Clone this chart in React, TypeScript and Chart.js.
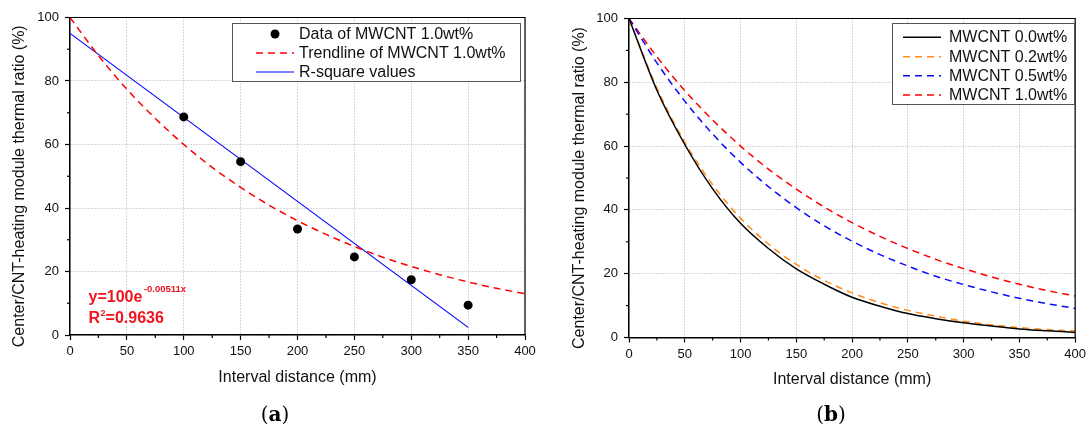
import React, { useEffect, useRef } from "react";
import { Chart, registerables } from "chart.js";

Chart.register(...registerables);

// ---------------- data ----------------
// (a) measured points for MWCNT 1.0wt%
const measuredDistance = [100, 150, 200, 250, 300, 350];
const measuredRatio = [68.7, 54.6, 33.4, 24.6, 17.4, 9.4];

// distances at which the curves were read
const curveDistance = [0, 25, 50, 75, 100, 125, 150, 175, 200, 225, 250, 275, 300, 325, 350, 375, 400];

// (a) exponential trendline of MWCNT 1.0wt%
const trendRatio = [100, 88.0, 77.4, 68.2, 60.0, 52.8, 46.5, 40.9, 36.0, 31.7, 27.9, 24.5, 21.6, 19.0, 16.7, 14.7, 13.0];

// (a) straight "R-square values" line
const rSquareDistance = [0, 350];
const rSquareRatio = [95.0, 2.4];

// (b) curves
const mwcnt00 = [100, 77.5, 60.5, 46.6, 35.8, 27.9, 21.5, 16.7, 12.6, 9.8, 7.5, 5.9, 4.6, 3.6, 2.7, 2.1, 1.6];
const mwcnt02 = [100, 78.2, 61.2, 47.9, 37.4, 29.3, 22.9, 17.9, 14.0, 10.9, 8.5, 6.7, 5.1, 4.0, 3.1, 2.5, 2.0];
const mwcnt05 = [100, 86.1, 74.1, 63.8, 54.9, 47.3, 40.7, 35.0, 30.2, 26.0, 22.4, 19.2, 16.6, 14.3, 12.3, 10.6, 9.1];
const mwcnt10 = [100, 88.0, 77.4, 68.2, 60.0, 52.8, 46.5, 40.9, 36.0, 31.7, 27.9, 24.5, 21.6, 19.0, 16.7, 14.7, 13.0];

// labelled (major) ticks; minor ticks lie halfway between
const xTickLabels = [0, 50, 100, 150, 200, 250, 300, 350, 400];
const yTickLabels = [0, 20, 40, 60, 80, 100];

const labelsA = ["Data of MWCNT 1.0wt%", "Trendline of MWCNT 1.0wt%", "R-square values"];
const labelsB = ["MWCNT 0.0wt%", "MWCNT 0.2wt%", "MWCNT 0.5wt%", "MWCNT 1.0wt%"];

const eqMain = "y=100e";
const eqExp = "-0.00511x";
const r2Main = "R";
const r2Sup = "2";
const r2Rest = "=0.9636";

const xTitle = "Interval distance (mm)";
const yTitle = "Center/CNT-heating module thermal ratio (%)";

// ---------------- helpers ----------------
const FONT = "'Liberation Sans', Arial, Helvetica, sans-serif";
const toPoints = (xs: number[], ys: number[]) => xs.map((x, i) => ({ x, y: ys[i] }));

const isMajorX = (v: number) => xTickLabels.includes(v);
const isMajorY = (v: number) => yTickLabels.includes(v);

const framePlugin = {
  id: "frame",
  afterDraw(chart: any) {
    const { ctx, chartArea, scales } = chart;
    ctx.save();
    ctx.strokeStyle = "#000";
    ctx.lineWidth = 1.2;
    ctx.beginPath();
    ctx.moveTo(chartArea.left, chartArea.top);
    ctx.lineTo(chartArea.right, chartArea.top);
    ctx.lineTo(chartArea.right, chartArea.bottom);
    ctx.stroke();
    // minor ticks
    scales.x.ticks.forEach((t: any) => {
      if (isMajorX(t.value)) return;
      const p = scales.x.getPixelForValue(t.value);
      ctx.beginPath();
      ctx.moveTo(p, chartArea.bottom);
      ctx.lineTo(p, chartArea.bottom + 3);
      ctx.stroke();
    });
    scales.y.ticks.forEach((t: any) => {
      if (isMajorY(t.value)) return;
      const p = scales.y.getPixelForValue(t.value);
      ctx.beginPath();
      ctx.moveTo(chartArea.left, p);
      ctx.lineTo(chartArea.left - 3, p);
      ctx.stroke();
    });
    ctx.restore();
  },
};

// y-axis title, drawn a little below the axis centre as in the original
function makeYTitlePlugin(cx: number, dy: number) {
  return {
    id: "yTitle",
    afterDraw(chart: any) {
      const { ctx, chartArea } = chart;
      ctx.save();
      ctx.translate(cx, (chartArea.top + chartArea.bottom) / 2 + dy);
      ctx.rotate(-Math.PI / 2);
      ctx.fillStyle = "#111";
      ctx.font = `16px ${FONT}`;
      ctx.textAlign = "center";
      ctx.textBaseline = "middle";
      ctx.fillText(yTitle, 0, 0);
      ctx.restore();
    },
  };
}

type LegendCfg = {
  x: number; y: number; w: number; h: number;
  rows: number[]; lineX1: number; lineX2: number; textX: number; fontSize: number;
};

function makeLegendPlugin(cfg: LegendCfg) {
  return {
    id: "boxLegend",
    afterDraw(chart: any) {
      const ctx = chart.ctx;
      ctx.save();
      ctx.fillStyle = "#fff";
      ctx.fillRect(cfg.x, cfg.y, cfg.w, cfg.h);
      ctx.strokeStyle = "#555";
      ctx.lineWidth = 1;
      ctx.strokeRect(cfg.x + 0.5, cfg.y + 0.5, cfg.w, cfg.h);
      cfg.rows.forEach((ry, i) => {
        const ds = chart.data.datasets[i];
        if (!ds) return;
        if (ds.showLine === false) {
          ctx.fillStyle = ds.pointBackgroundColor;
          ctx.beginPath();
          ctx.arc((cfg.lineX1 + cfg.lineX2) / 2, ry, ds.pointRadius, 0, Math.PI * 2);
          ctx.fill();
        } else {
          ctx.strokeStyle = ds.borderColor;
          ctx.lineWidth = ds.borderWidth;
          ctx.setLineDash(ds.borderDash || []);
          ctx.beginPath();
          ctx.moveTo(cfg.lineX1, ry);
          ctx.lineTo(cfg.lineX2, ry);
          ctx.stroke();
          ctx.setLineDash([]);
        }
        ctx.fillStyle = "#111";
        ctx.font = `${cfg.fontSize}px ${FONT}`;
        ctx.textAlign = "left";
        ctx.textBaseline = "middle";
        ctx.fillText(ds.label, cfg.textX, ry + 0.5);
      });
      ctx.restore();
    },
  };
}

const equationPlugin = {
  id: "equation",
  afterDatasetsDraw(chart: any) {
    const { ctx, chartArea } = chart;
    const x0 = chartArea.left + 18.5;
    const b = chartArea.bottom;
    ctx.save();
    ctx.fillStyle = "#f0141e";
    ctx.textAlign = "left";
    ctx.textBaseline = "middle";
    ctx.font = `bold 16px ${FONT}`;
    ctx.fillText(eqMain, x0, b - 37.5);
    let w = ctx.measureText(eqMain).width;
    ctx.font = `bold 9.5px ${FONT}`;
    ctx.fillText(eqExp, x0 + w + 1.5, b - 45.5);
    ctx.font = `bold 16px ${FONT}`;
    ctx.fillText(r2Main, x0, b - 16);
    w = ctx.measureText(r2Main).width;
    ctx.font = `bold 9px ${FONT}`;
    ctx.fillText(r2Sup, x0 + w + 0.5, b - 21.5);
    const w2 = ctx.measureText(r2Sup).width;
    ctx.font = `bold 16px ${FONT}`;
    ctx.fillText(r2Rest, x0 + w + w2 + 0.5, b - 16);
    ctx.restore();
  },
};

function makeOptions(p: {
  yAxisWidth: number; padTop: number; padRight: number; padBottom: number;
}) {
  return {
    responsive: false,
    animation: false as const,
    layout: { padding: { left: 0, right: p.padRight, top: p.padTop, bottom: p.padBottom } },
    plugins: { legend: { display: false }, tooltip: { enabled: false } },
    scales: {
      x: {
        type: "linear" as const,
        min: 0,
        max: 400,
        afterFit: (s: any) => { s.height = 52; },
        ticks: {
          stepSize: 25,
          autoSkip: false,
          maxRotation: 0,
          padding: 4,
          color: "#111",
          font: { family: FONT, size: 13 },
          callback: (v: any) => (isMajorX(Number(v)) ? String(v) : ""),
        },
        grid: {
          color: (c: any) => (c.tick && isMajorX(c.tick.value) ? "#b0b0b0" : "rgba(0,0,0,0)"),
          tickColor: (c: any) => (c.tick && isMajorX(c.tick.value) ? "#000" : "rgba(0,0,0,0)"),
          tickLength: 5,
          tickWidth: 1.2,
          lineWidth: 1,
        },
        border: { display: true, color: "#000", width: 1.5, dash: [1, 2] },
        title: {
          display: true,
          text: xTitle,
          color: "#111",
          font: { family: FONT, size: 16 },
          padding: { top: 0, bottom: 0 },
        },
      },
      y: {
        type: "linear" as const,
        min: 0,
        max: 100,
        afterFit: (s: any) => { s.width = p.yAxisWidth; },
        ticks: {
          stepSize: 10,
          autoSkip: false,
          padding: 6,
          color: "#111",
          font: { family: FONT, size: 13 },
          callback: (v: any) => (isMajorY(Number(v)) ? String(v) : ""),
        },
        grid: {
          color: (c: any) => (c.tick && isMajorY(c.tick.value) ? "#b0b0b0" : "rgba(0,0,0,0)"),
          tickColor: (c: any) => (c.tick && isMajorY(c.tick.value) ? "#000" : "rgba(0,0,0,0)"),
          tickLength: 5,
          tickWidth: 1.2,
          lineWidth: 1,
        },
        border: { display: true, color: "#000", width: 1.5, dash: [1, 2] },
        title: { display: false },
      },
    },
  };
}

function ChartA() {
  const ref = useRef<HTMLCanvasElement>(null);
  useEffect(() => {
    if (!ref.current) return;
    const chart = new Chart(ref.current, {
      type: "line",
      data: {
        datasets: [
          {
            label: labelsA[0],
            data: toPoints(measuredDistance, measuredRatio),
            showLine: false,
            pointRadius: 4.5,
            pointBackgroundColor: "#000",
            pointBorderColor: "#000",
            borderColor: "#000",
            pointBorderWidth: 0,
          },
          {
            label: labelsA[1],
            data: toPoints(curveDistance, trendRatio),
            borderColor: "#ff0000",
            borderWidth: 1.5,
            borderDash: [7, 5],
            pointRadius: 0,
            cubicInterpolationMode: "monotone",
          },
          {
            label: labelsA[2],
            data: toPoints(rSquareDistance, rSquareRatio),
            borderColor: "#0000ff",
            borderWidth: 1.2,
            pointRadius: 0,
          },
        ],
      } as any,
      options: makeOptions({ yAxisWidth: 70, padTop: 17.5, padRight: 20, padBottom: 41 }) as any,
      plugins: [
        framePlugin,
        equationPlugin,
        makeYTitlePlugin(20, 10),
        makeLegendPlugin({ x: 232, y: 23, w: 288, h: 58, rows: [34, 53, 72], lineX1: 256, lineX2: 294, textX: 299, fontSize: 16 }),
      ] as any,
    });
    return () => chart.destroy();
  }, []);
  return <canvas ref={ref} width={545} height={428} style={{ width: 545, height: 428, display: "block" }} />;
}

function ChartB() {
  const ref = useRef<HTMLCanvasElement>(null);
  useEffect(() => {
    if (!ref.current) return;
    const line = (label: string, ys: number[], color: string, dash: number[]) => ({
      label,
      data: toPoints(curveDistance, ys),
      borderColor: color,
      borderWidth: 1.5,
      borderDash: dash,
      pointRadius: 0,
      cubicInterpolationMode: "monotone",
    });
    const chart = new Chart(ref.current, {
      type: "line",
      data: {
        datasets: [
          line(labelsB[0], mwcnt00, "#000000", []),
          line(labelsB[1], mwcnt02, "#ff8c1a", [7, 5]),
          line(labelsB[2], mwcnt05, "#0a0aff", [7, 5]),
          line(labelsB[3], mwcnt10, "#ff0000", [7, 5]),
        ],
      } as any,
      options: makeOptions({ yAxisWidth: 84, padTop: 18.5, padRight: 11, padBottom: 38.5 }) as any,
      plugins: [
        framePlugin,
        makeYTitlePlugin(35, 10),
        makeLegendPlugin({ x: 347, y: 23, w: 182, h: 81, rows: [37.3, 56.7, 75.7, 95], lineX1: 358, lineX2: 396, textX: 404, fontSize: 16 }),
      ] as any,
    });
    return () => chart.destroy();
  }, []);
  return <canvas ref={ref} width={545} height={428} style={{ width: 545, height: 428, display: "block" }} />;
}

const captionStyle: React.CSSProperties = {
  position: "absolute",
  top: 402,
  width: 60,
  textAlign: "center",
  fontFamily: "'DejaVu Serif', 'Liberation Serif', serif",
  fontSize: 20,
  lineHeight: "24px",
  color: "#000",
};

export default function App() {
  return (
    <div style={{ position: "absolute", left: 0, top: 0, width: 1090, height: 428, background: "#fff", overflow: "hidden" }}>
      <div style={{ position: "absolute", left: 0, top: 0 }}>
        <ChartA />
      </div>
      <div style={{ position: "absolute", left: 545, top: 0 }}>
        <ChartB />
      </div>
      <div style={{ ...captionStyle, left: 275 - 30 }}>
        (<b>a</b>)
      </div>
      <div style={{ ...captionStyle, left: 831 - 30 }}>
        (<b>b</b>)
      </div>
    </div>
  );
}
